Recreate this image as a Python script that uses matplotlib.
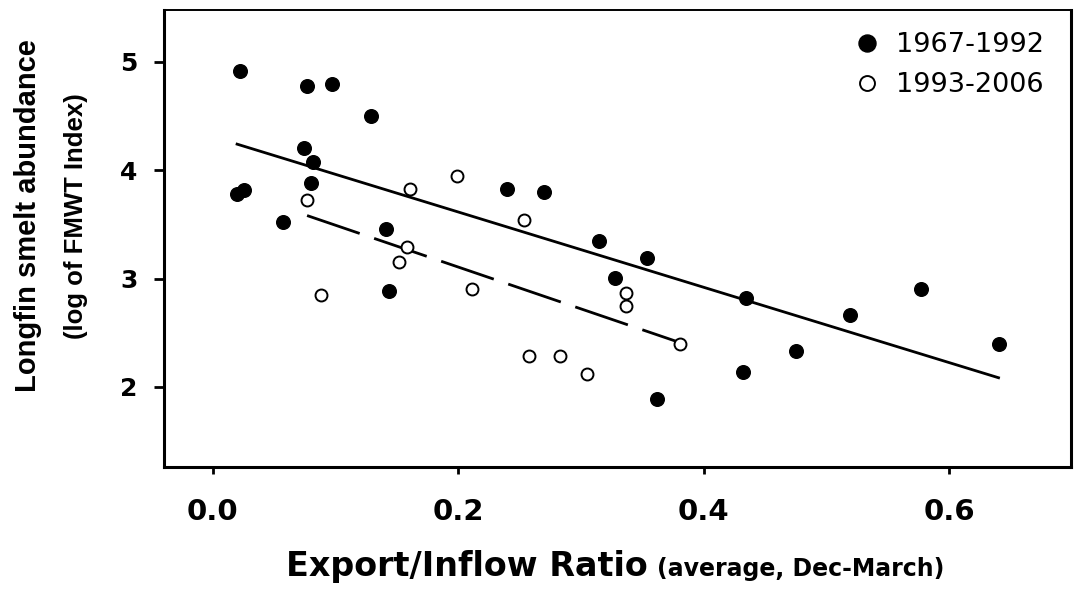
import matplotlib
matplotlib.use("Agg")
import matplotlib.pyplot as plt
import numpy as np

# 1967-1992 (filled)
x_early = [0.022, 0.077, 0.097, 0.129, 0.0745, 0.082, 0.080, 0.026, 0.020, 0.057,
           0.141, 0.240, 0.270, 0.3145, 0.144, 0.354, 0.328, 0.362, 0.434, 0.432,
           0.475, 0.519, 0.577, 0.640]
y_early = [4.92, 4.78, 4.80, 4.50, 4.21, 4.08, 3.88, 3.82, 3.78, 3.525,
           3.458, 3.827, 3.797, 3.35, 2.886, 3.19, 3.003, 1.888, 2.824, 2.135,
           2.332, 2.667, 2.904, 2.396]

# 1993-2006 (open)
x_late = [0.077, 0.161, 0.199, 0.254, 0.158, 0.152, 0.088, 0.211, 0.258, 0.283,
          0.305, 0.337, 0.337, 0.381]
y_late = [3.726, 3.827, 3.945, 3.541, 3.295, 3.15, 2.846, 2.907, 2.288, 2.288,
          2.12, 2.864, 2.747, 2.40]

labels = ["1967-1992", "1993-2006"]
xticks = [0.0, 0.2, 0.4, 0.6]
yticks = [2, 3, 4, 5]

W, H = 1080, 589
fig = plt.figure(figsize=(W / 100, H / 100), dpi=100)
ax = fig.add_axes([164 / W, 1 - 467 / H, (1071 - 164) / W, (467 - 10) / H])

ax.plot(x_early, y_early, 'o', color='black', markersize=9.8, label=labels[0], zorder=3)
ax.plot(x_late, y_late, 'o', markerfacecolor='white', markeredgecolor='black',
        markersize=8.6, markeredgewidth=1.4, label=labels[1], zorder=3)

# regression lines over each period's range
for xs, ys, style in [(x_early, y_early, None), (x_late, y_late, (20, 5.5))]:
    xs = np.array(xs)
    b, a = np.polyfit(xs, ys, 1)
    xx = np.array([xs.min(), xs.max()])
    line, = ax.plot(xx, a + b * xx, color='black', linewidth=2.0, zorder=2)
    if style:
        line.set_dashes(style)

ax.set_xlim(-0.0395, 0.699)
ax.set_ylim(1.26, 5.48)
ax.set_xticks(xticks)
ax.set_xticklabels(["%.1f" % v for v in xticks])
ax.set_yticks(yticks)

for s in ['left', 'bottom', 'right']:
    ax.spines[s].set_linewidth(2.2)
ax.spines['top'].set_linewidth(1.4)

ax.tick_params(axis='x', direction='out', length=5, width=2, pad=17)
ax.tick_params(axis='y', direction='out', length=7, width=2, pad=12)
for t in ax.get_xticklabels():
    t.set_fontfamily('DejaVu Sans')
    t.set_fontweight('bold')
    t.set_fontsize(21)
for t in ax.get_yticklabels():
    t.set_fontfamily('DejaVu Sans')
    t.set_fontweight('bold')
    t.set_fontsize(18)

leg = ax.legend(loc='upper left', bbox_to_anchor=(853 / W, 1 - 32 / H),
                bbox_transform=fig.transFigure, frameon=False, numpoints=1,
                markerscale=1.25, handlelength=1.0, handletextpad=0.59,
                labelspacing=0.53, borderpad=0, borderaxespad=0,
                prop={'family': 'DejaVu Sans', 'size': 19.5})

fig.text(28 / W, 1 - 216 / H, "Longfin smelt abundance", rotation=90,
         ha='center', va='center', fontsize=21, fontweight='bold',
         family='Liberation Sans')
fig.text(76 / W, 1 - 216 / H, "(log of FMWT Index)", rotation=90,
         ha='center', va='center', fontsize=18.5, fontweight='bold',
         family='Liberation Sans')

fig.text(648 / W, 1 - 576 / H, "Export/Inflow Ratio", ha='right', va='baseline',
         fontsize=24, fontweight='bold', family='DejaVu Sans')
fig.text(657 / W, 1 - 576 / H, "(average, Dec-March)", ha='left', va='baseline',
         fontsize=17, fontweight='bold', family='DejaVu Sans')

fig.savefig("out.png", dpi=100)
